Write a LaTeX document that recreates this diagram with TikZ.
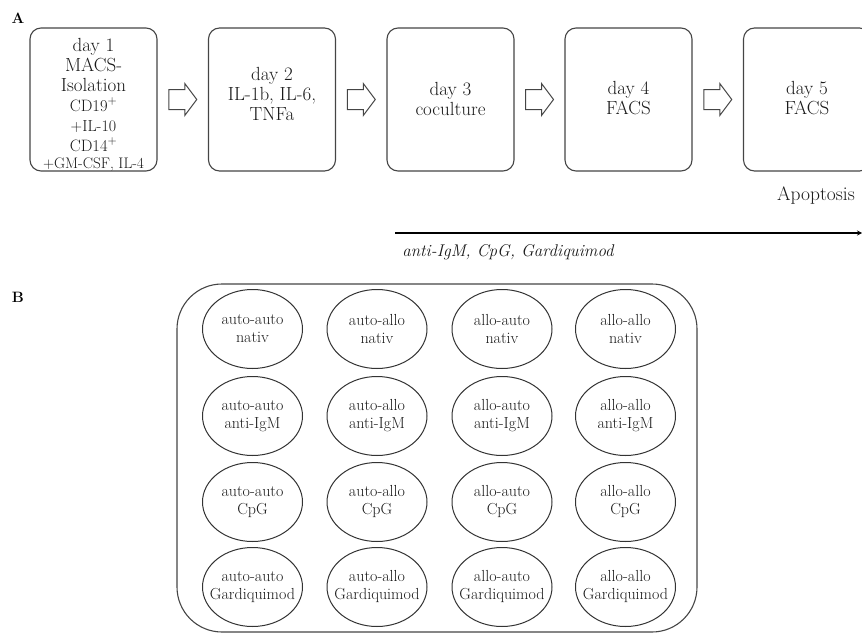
\documentclass[tikz,border=0pt]{standalone}
\usetikzlibrary{shapes.geometric,calc,arrows.meta}
\definecolor{boxgray}{HTML}{454545}
\definecolor{ellgray}{HTML}{333333}
\definecolor{textgray}{HTML}{1A1A1A}
\begin{document}
\begin{tikzpicture}[x=1pt,y=-1pt,
  daybox/.style={draw=boxgray, line width=1.1pt, rounded corners=11pt, minimum width=127pt, minimum height=143pt, inner sep=0pt},
  daytext/.style={align=center, text=textgray, font=\fontsize{19}{20}\selectfont, inner sep=0pt},
  blockarrow/.style={draw=boxgray, line width=1pt, line join=miter, fill=white},
  cell/.style={ellipse, draw=ellgray, line width=1pt, minimum width=100pt, minimum height=79pt, inner sep=0pt},
  celltext/.style={align=center, text=textgray, font=\fontsize{16}{18}\selectfont, inner sep=0pt},
  panel/.style={font=\fontsize{15}{15}\selectfont\bfseries, inner sep=0pt}
]
\useasboundingbox (0,0) rectangle (862,634);
\clip (0,0) rectangle (862,634);

% panel labels
\node[panel] (lA) at (18,18) {A};
\node[panel] (lB) at (18,297) {B};

% day boxes
\node[daybox] (b1) at (93.5,99.5) {};
\node[daybox] (b2) at (272,99.5) {};
\node[daybox] (b3) at (450.5,99.5) {};
\node[daybox] (b4) at (628.5,99.5) {};
\node[daybox] (b5) at (807,99.5) {};

\node[daytext] (t1) at ($(b1.center)+(0,5)$) {day 1\\ MACS-\\ Isolation\\ {\fontsize{16.5}{19}\selectfont CD19$^+$}\\ {\fontsize{16}{19}\selectfont +IL-10}\\ {\fontsize{16.5}{19}\selectfont CD14$^+$}\\[-3pt] {\fontsize{15.3}{17}\selectfont +GM-CSF, IL-4}};
\node[daytext] (t2) at ($(b2.center)+(0,-6)$) {day 2\\ IL-1b, IL-6,\\ TNFa};
\node[daytext] (t3) at ($(b3.center)+(0,-1)$) {day 3\\ coculture};
\node[daytext] (t4) at ($(b4.center)+(0,-1)$) {day 4\\ FACS};
\node[daytext] (t5) at ($(b5.center)+(0,-1)$) {day 5\\ FACS};

% block arrows
\foreach \i/\j in {1/2,2/3,3/4,4/5}{
  \coordinate (a\i) at ($(b\i.east)!0.5!(b\j.west)$);
  \draw[blockarrow, shift={(a\i)}] (-14,-10) -- (2,-10) -- (2,-16) -- (14,0) -- (2,16) -- (2,10) -- (-14,10) -- cycle;
}

% apoptosis and timeline
\node[daytext, font=\fontsize{19.5}{20}\selectfont] (apo) at (816,196) {Apoptosis};
\coordinate (tl0) at (395,233);
\coordinate (tl1) at (862,233);
\draw[line width=1.5pt, black, -{Stealth[length=5pt,width=5pt]}] (tl0) -- (tl1);
\node[inner sep=0pt, text=textgray, font=\fontsize{17}{17}\selectfont\itshape] (stim) at (508,252) {anti-IgM, CpG, Gardiquimod};

% panel B plate
\node[draw=boxgray, line width=1.1pt, rounded corners=45pt, minimum width=520pt, minimum height=348pt, inner sep=0pt] (plate) at (437,458) {};

% cells
\foreach \c/\x/\name in {1/252.5/auto-auto, 2/377/auto-allo, 3/502/allo-auto, 4/625.5/allo-allo}{
  \foreach \r/\y/\cond in {1/329/nativ, 2/416/anti-IgM, 3/502/CpG, 4/587/Gardiquimod}{
    \node[cell, label={[celltext]center:{\name\\ \cond}}] (e\r\c) at (\x,\y) {};
  }
}
\end{tikzpicture}
\end{document}
